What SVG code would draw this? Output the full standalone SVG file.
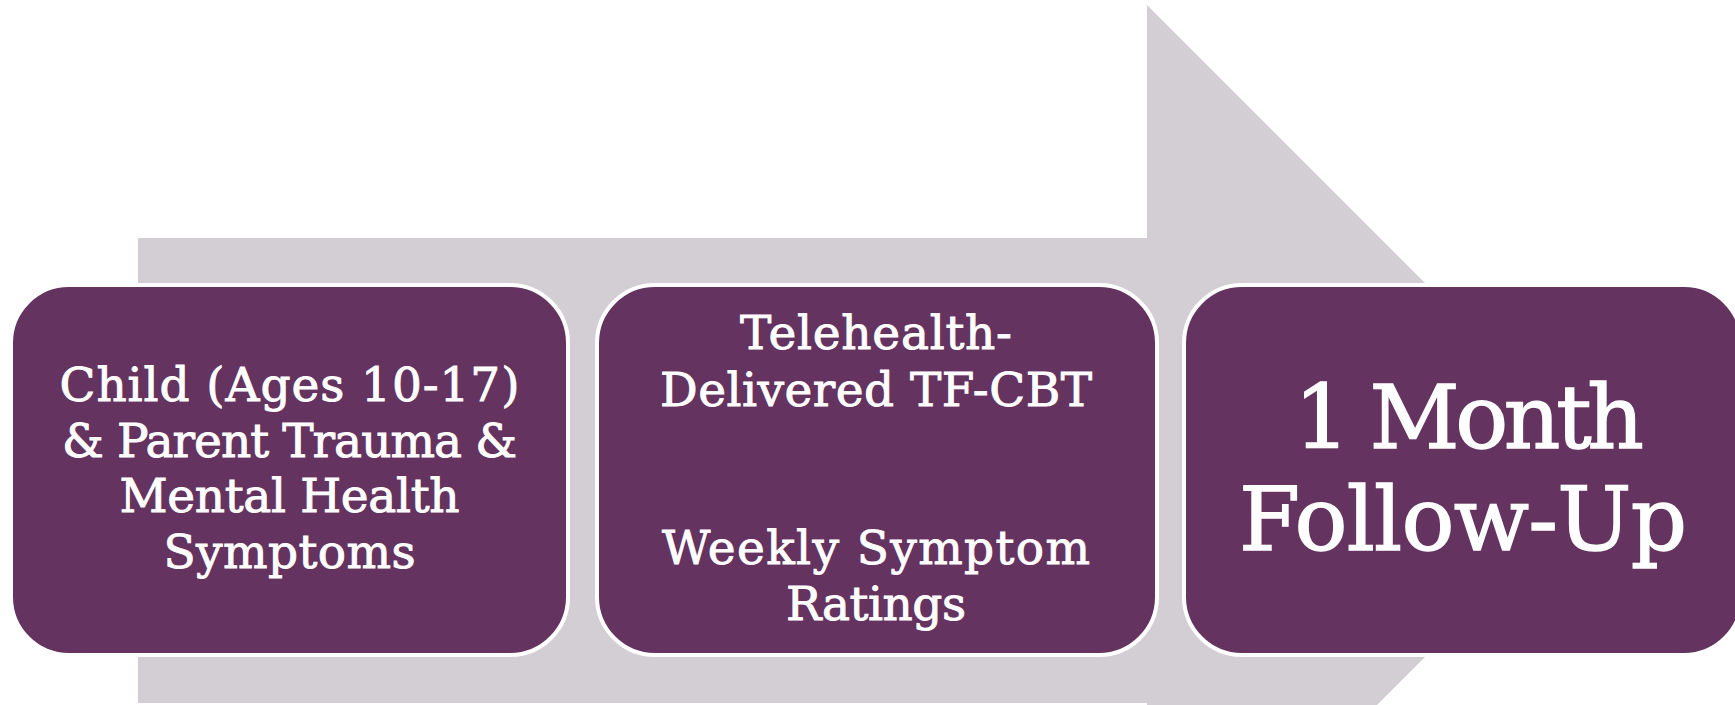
<svg xmlns="http://www.w3.org/2000/svg" width="1735" height="705" viewBox="0 0 1735 705">
<style>
.box{fill:#64335f;stroke:#ffffff;stroke-width:4}
.t{fill:#ffffff;stroke:#ffffff;stroke-width:0.9;font-family:"DejaVu Serif","Liberation Serif",serif;text-anchor:middle}
.s{font-size:47px}
.b{font-size:88px;stroke-width:1.4}
</style>
<rect width="1735" height="705" fill="#ffffff"/>
<g id="connectors">
<polygon points="138,238 1147,238 1147,5 1612,470 1147,935 1147,703 138,703" fill="#d3cdd4"/>
</g>
<g id="node1">
<rect class="box" x="11" y="285" width="557" height="370" rx="58"/>
<text class="t s" x="289.5" y="401" textLength="460" lengthAdjust="spacing">Child (Ages 10-17)</text>
<text class="t s" x="289.5" y="456.5" textLength="455" lengthAdjust="spacing">&amp; Parent Trauma &amp;</text>
<text class="t s" x="289.5" y="512" textLength="340" lengthAdjust="spacing">Mental Health</text>
<text class="t s" x="289.5" y="567.5" textLength="252" lengthAdjust="spacing">Symptoms</text>
</g>
<g id="node2">
<rect class="box" x="597" y="285" width="560" height="370" rx="58"/>
<text class="t s" x="876" y="349" textLength="272" lengthAdjust="spacing">Telehealth-</text>
<text class="t s" x="876" y="406" textLength="432" lengthAdjust="spacing">Delivered TF-CBT</text>
<text class="t s" x="876" y="564" textLength="428" lengthAdjust="spacing">Weekly Symptom</text>
<text class="t s" x="876" y="620" textLength="180" lengthAdjust="spacing">Ratings</text>
</g>
<g id="node3">
<rect class="box" x="1184" y="285" width="558" height="370" rx="58"/>
<text class="t b" x="1469" y="448" textLength="350" lengthAdjust="spacing">1 Month</text>
<text class="t b" x="1463" y="550" textLength="448" lengthAdjust="spacing">Follow-Up</text>
</g>
</svg>
